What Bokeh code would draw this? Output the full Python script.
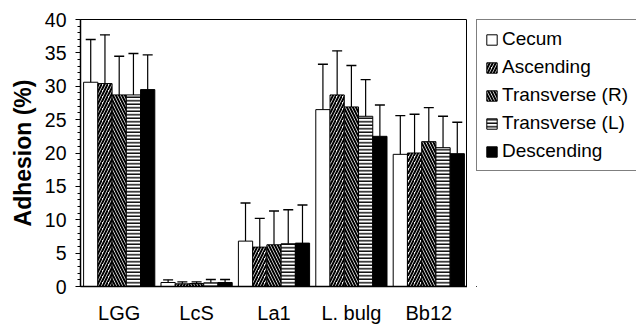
from bokeh.plotting import figure
from bokeh.layouts import row
from bokeh.models import ColumnDataSource, FactorRange, Range1d, Legend, LegendItem, SingleIntervalTicker
from bokeh.transform import dodge
from bokeh.embed import file_html
from bokeh.resources import INLINE

groups = ["LGG", "LcS", "La1", "L. bulg", "Bb12"]
series = ["Cecum", "Ascending", "Transverse (R)", "Transverse (L)", "Descending"]

cecum_mean = [30.6, 0.6, 6.8, 26.5, 19.8]
cecum_sd = [6.4, 0.4, 5.7, 6.8, 5.8]
ascending_mean = [30.4, 0.4, 5.9, 28.7, 20.0]
ascending_sd = [7.3, 0.3, 4.3, 6.6, 5.8]
transverse_r_mean = [28.7, 0.45, 6.25, 26.9, 21.7]
transverse_r_sd = [5.8, 0.25, 5.05, 6.2, 5.1]
transverse_l_mean = [28.7, 0.55, 6.4, 25.5, 20.8]
transverse_l_sd = [6.2, 0.5, 5.1, 5.5, 4.7]
descending_mean = [29.5, 0.6, 6.5, 22.5, 19.9]
descending_sd = [5.2, 0.45, 5.7, 4.7, 4.7]

y_ticks_interval = 5

means = [cecum_mean, ascending_mean, transverse_r_mean, transverse_l_mean, descending_mean]
sds = [cecum_sd, ascending_sd, transverse_r_sd, transverse_l_sd, descending_sd]

styles = [
    dict(fill_color="white"),
    dict(fill_color="white", hatch_pattern="/", hatch_color="black", hatch_scale=6, hatch_weight=2),
    dict(fill_color="white", hatch_pattern="\\", hatch_color="black", hatch_scale=6, hatch_weight=2),
    dict(fill_color="white", hatch_pattern="-", hatch_color="black", hatch_scale=3.5, hatch_weight=1.4),
    dict(fill_color="black"),
]

FONT = "Liberation Sans"

p = figure(width=467, height=326,
           x_range=FactorRange(factors=groups, range_padding=0),
           y_range=Range1d(0, 40),
           output_backend="svg", toolbar_location=None,
           min_border_left=80, min_border_right=0,
           min_border_top=19, min_border_bottom=40)

# legend-only panel to the right
p2 = figure(width=169, height=326, x_range=Range1d(0, 1), y_range=Range1d(0, 1),
            output_backend="svg", toolbar_location=None,
            x_axis_location=None, y_axis_location=None,
            min_border=0, min_border_left=9, min_border_top=11)
p2.outline_line_color = None
p2.grid.visible = False

w = 0.184
items = []
for i, name in enumerate(series):
    ups = [m + s for m, s in zip(means[i], sds[i])]
    src = ColumnDataSource(dict(g=groups, top=means[i], up=ups))
    x = dodge("g", (i - 2) * w, range=p.x_range)
    p.vbar(x=x, top="top", width=w, source=src, line_color="black", line_width=1, **styles[i])
    p.segment(x0=x, y0="top", x1=x, y1="up", source=src, line_color="black", line_width=1.2)
    p.scatter(x=x, y="up", source=src, marker="dash", size=10, line_color="black", line_width=1.4)
    # legend swatch renderer (kept outside the visible range of the legend panel)
    lr = p2.vbar(x=[-5], top=[-5], bottom=[-6], width=0.1, line_color="black", line_width=1, **styles[i])
    items.append(LegendItem(label=name, renderers=[lr]))

legend = Legend(items=items, location="top_left")
legend.label_text_font = FONT
legend.label_text_font_size = "19px"
legend.label_text_color = "black"
legend.glyph_width = 13
legend.glyph_height = 13
legend.label_standoff = 4
legend.padding = 8
legend.spacing = 6
legend.margin = 0
legend.border_line_color = "black"
legend.border_line_width = 1
legend.background_fill_color = "white"
legend.background_fill_alpha = 1
p2.add_layout(legend)

p.xgrid.grid_line_color = None
p.ygrid.grid_line_color = None
p.outline_line_color = "black"
p.outline_line_width = 1
p.background_fill_color = "white"
p.border_fill_color = "white"

p.yaxis.ticker = SingleIntervalTicker(interval=y_ticks_interval, num_minor_ticks=5)
p.yaxis.axis_label = "Adhesion (%)"
p.yaxis.axis_label_text_font = FONT
p.yaxis.axis_label_text_font_style = "bold"
p.yaxis.axis_label_text_font_size = "23px"
p.yaxis.axis_label_standoff = 6
p.yaxis.major_label_text_font = FONT
p.yaxis.major_label_text_font_size = "19.5px"
p.yaxis.major_label_standoff = 9
p.yaxis.major_tick_in = 0
p.yaxis.major_tick_out = 5
p.yaxis.minor_tick_in = 0
p.yaxis.minor_tick_out = 3
p.yaxis.axis_line_width = 1.5
p.yaxis.major_tick_line_color = "black"
p.yaxis.minor_tick_line_color = "black"

p.xaxis.major_tick_line_color = None
p.xaxis.minor_tick_line_color = None
p.xaxis.major_label_text_font = FONT
p.xaxis.major_label_text_font_size = "20px"
p.xaxis.major_label_standoff = 9
p.xaxis.axis_line_width = 1.5

for ax in (p.xaxis, p.yaxis):
    ax.axis_line_color = "black"
    ax.major_label_text_color = "black"
    ax.axis_label_text_color = "black"

layout = row(p, p2)
open("out.html", "w").write(file_html(layout, INLINE))
